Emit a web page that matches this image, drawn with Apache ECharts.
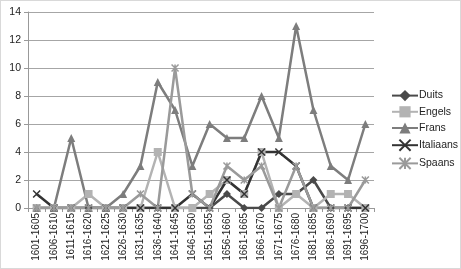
<!DOCTYPE html>
<html><head><meta charset="utf-8">
<script src="https://cdn.jsdelivr.net/npm/echarts@6/dist/echarts.min.js"></script>
<style>html,body{margin:0;padding:0;background:#fff}#c{width:461px;height:269px;box-sizing:border-box;border:1px solid #d9d9d9}</style>
</head><body><div id="c"></div>
<script>
const categories = ["1601-1605","1606-1610","1611-1615","1616-1620","1621-1625","1626-1630","1631-1635","1636-1640","1641-1645","1646-1650","1651-1655","1656-1660","1661-1665","1666-1670","1671-1675","1676-1680","1681-1685","1686-1690","1691-1695","1696-1700"];
const duits     = [0,0,0,0,0,0,0,0,0,0,0,1,0,0,1,1,2,0,0,0];
const engels    = [0,0,0,1,0,0,0,4,0,0,1,2,1,4,0,1,0,1,1,0];
const frans     = [0,0,5,0,0,1,3,9,7,3,6,5,5,8,5,13,7,3,2,6];
const italiaans = [1,0,0,0,0,0,0,0,0,1,0,2,1,4,4,3,0,0,0,0];
const spaans    = [0,0,0,0,0,0,1,0,10,1,0,3,2,3,0,3,0,0,0,2];
const yTicks = [0,2,4,6,8,10,12,14];

const X_PATH = 'path://M0,0L10,10M10,0L0,10';
const STAR_PATH = 'path://M0,0L10,10M10,0L0,10M5,0L5,10';

function mk(name, data, color, symbol, size, stroke) {
  const s = {
    name, type: 'line', data, symbol, symbolSize: size,
    lineStyle: { color, width: 2.5 },
    itemStyle: { color },
    emphasis: { disabled: true },
    z: 2
  };
  if (stroke) { s.itemStyle = { color, borderColor: color, borderWidth: 1.5 }; }
  return s;
}

const chart = echarts.init(document.getElementById('c'));
chart.setOption({
  animation: false,
  textStyle: { fontFamily: 'Liberation Sans, Arial, sans-serif' },
  grid: { left: 27, right: 86, top: 11, bottom: 60, containLabel: false },
  legend: {
    orient: 'vertical', left: 390, top: 89, itemGap: 5, padding: 0,
    itemWidth: 26, itemHeight: 14,
    textStyle: { fontSize: 10.5, color: '#222', padding: [0,0,0,-4] },
    data: ['Duits','Engels','Frans','Italiaans','Spaans']
  },
  xAxis: {
    type: 'category', data: categories, boundaryGap: true,
    axisLine: { lineStyle: { color: '#999', width: 1 } },
    axisTick: { show: true, alignWithLabel: false, length: 4, lineStyle: { color: '#999' } },
    axisLabel: { rotate: 90, fontSize: 10, color: '#222', margin: 5, interval: 0 }
  },
  yAxis: {
    type: 'value', min: 0, max: 14, interval: 2,
    axisLine: { show: true, lineStyle: { color: '#999', width: 1 } },
    axisTick: { show: true, length: 4, lineStyle: { color: '#999' } },
    axisLabel: { fontSize: 10.5, color: '#222', margin: 7, formatter: v => yTicks.includes(v) ? String(v) : '' },
    splitLine: { lineStyle: { color: '#a6a6a6', width: 1.2 } }
  },
  series: [
    mk('Duits', duits, '#4a4a4a', 'diamond', 8),
    mk('Engels', engels, '#b3b3b3', 'rect', 8),
    mk('Frans', frans, '#7d7d7d', 'triangle', 8),
    mk('Italiaans', italiaans, '#333333', X_PATH, 7, true),
    mk('Spaans', spaans, '#9a9a9a', STAR_PATH, 7, true)
  ]
});
</script></body></html>
